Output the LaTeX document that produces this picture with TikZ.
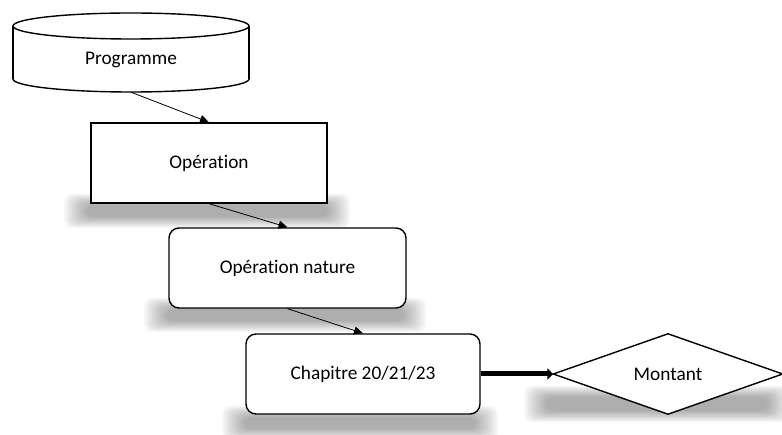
\documentclass[tikz,border=0pt]{standalone}
\usepackage{fontspec}
\setmainfont{Carlito}[Ligatures={NoCommon}]
\usetikzlibrary{arrows.meta}
\newcommand\softshadow[4]{%
  \foreach \i in {0,...,11}{%
    \fill[black,opacity=0.032,rounded corners=8pt] (#1+\i*2,#2+\i) rectangle (#3-\i*2,#4-\i);}}
\tikzset{
  box/.style={draw,line width=1.4pt,fill=white,inner sep=0pt,font=\fontsize{19.3}{23}\selectfont},
  rbox/.style={box,rounded corners=10pt},
  lbl/.style={inner sep=0pt,font=\fontsize{19.3}{23}\selectfont},
  thin/.style={line width=0.8pt,-{Triangle[length=9pt,width=8pt]}},
  thick/.style={line width=5pt,-{Triangle[length=6pt,width=11pt]}},
  outline/.style={line width=1.4pt}
}
\begin{document}
\begin{tikzpicture}[x=1pt,y=-1pt]
\useasboundingbox (0,0) rectangle (782,435);
% shadows
\softshadow{64}{194}{350}{228}
\softshadow{144}{298}{426}{332}
\softshadow{222}{406}{498}{440}
\softshadow{524}{386}{790}{422}
% cylinder Programme
\fill[white] (131,79) ellipse [x radius=118, y radius=13];
\draw[outline] (131,79) ellipse [x radius=118, y radius=13];
\fill[white] (13,26) rectangle (249,79);
\draw[outline] (13,26) -- (13,79) (249,26) -- (249,79);
\draw[outline,fill=white] (131,26) ellipse [x radius=118, y radius=13];
\node[lbl,minimum width=236pt,minimum height=79pt] (prog) at (131,52.5) {};
\node[lbl] at (131,60) {Programme};
% boxes
\node[box,minimum width=236pt,minimum height=80pt] (op) at (209,163) {Opération};
\node[rbox,minimum width=237pt,minimum height=80pt] (onat) at (287.5,268) {Opération nature};
\node[rbox,minimum width=234pt,minimum height=80pt] (chap) at (363,374) {Chapitre 20/21/23};
% diamond Montant
\node[lbl,minimum width=229pt,minimum height=80pt] (mont) at (668,374) {};
\draw[outline,fill=white] (mont.west) -- (mont.north) -- (mont.east) -- (mont.south) -- cycle;
\node[lbl] at (mont.center) {Montant};
% connectors
\draw[thin] (prog.south) -- (op.north);
\draw[thin] (op.south) -- (onat.north);
\draw[thin] (onat.south) -- (chap.north);
\draw[thick] (chap.east) -- (mont.west);
\end{tikzpicture}
\end{document}
